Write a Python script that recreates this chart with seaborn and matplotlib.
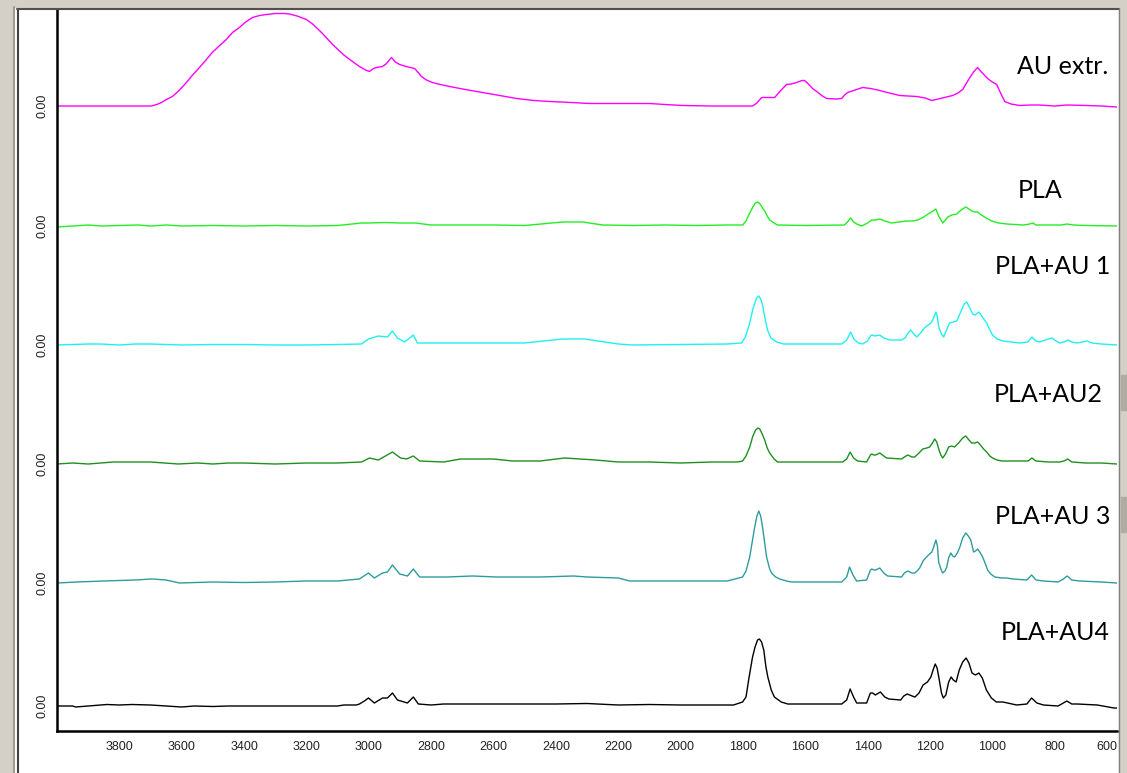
import numpy as np
import pandas as pd
import matplotlib
matplotlib.use("Agg")
import matplotlib.pyplot as plt
import seaborn as sns
from matplotlib.patches import Rectangle
from matplotlib.lines import Line2D

# ---------------- data ----------------
series_names = ["AU extr.", "PLA", "PLA+AU 1", "PLA+AU2", "PLA+AU 3", "PLA+AU4"]
series_colors = ["#ff00ff", "#22ee22", "#1ff0f0", "#1f8f1f", "#2e9c9c", "#000000"]
baseline_offsets = [6.0, 4.80, 3.61, 2.42, 1.23, 0.0]

# AU extr. (wavenumber, absorbance above its own baseline)
au_extr_wn = [4000, 3697, 3680, 3665, 3649, 3630, 3610, 3585, 3565, 3543, 3522, 3502, 3480, 3457,
              3437, 3415, 3395, 3373, 3350, 3328, 3300, 3270, 3254, 3230, 3200, 3180, 3150, 3116,
              3080, 3050, 3030, 3010, 2998, 2985, 2975, 2956, 2945, 2934, 2927, 2915, 2901, 2880,
              2853, 2840, 2831, 2815, 2796, 2770, 2741, 2690, 2635, 2580, 2526, 2470, 2420, 2350,
              2292, 2200, 2099, 2050, 1993, 1900, 1769, 1755, 1740, 1720, 1698, 1680, 1660, 1645,
              1628, 1610, 1602, 1590, 1575, 1563, 1545, 1531, 1500, 1483, 1474, 1464, 1440, 1416,
              1390, 1361, 1330, 1297, 1270, 1242, 1215, 1194, 1160, 1127, 1110, 1095, 1075, 1060,
              1047, 1035, 1015, 1000, 986, 972, 960, 940, 912, 880, 850, 800, 760, 700, 650, 600]
au_extr_abs = [0, 0, 0.015, 0.035, 0.065, 0.095, 0.15, 0.235, 0.31, 0.385, 0.46, 0.535, 0.60, 0.665,
               0.735, 0.785, 0.84, 0.885, 0.905, 0.915, 0.925, 0.925, 0.92, 0.90, 0.865, 0.82, 0.73, 0.615,
               0.51, 0.44, 0.395, 0.36, 0.345, 0.375, 0.385, 0.395, 0.42, 0.46, 0.485, 0.44, 0.415, 0.395,
               0.375, 0.33, 0.295, 0.26, 0.235, 0.215, 0.195, 0.165, 0.135, 0.105, 0.075, 0.055, 0.045, 0.035,
               0.025, 0.025, 0.025, 0.015, 0.005, 0, 0, 0.03, 0.085, 0.085, 0.085, 0.15, 0.215, 0.22,
               0.235, 0.255, 0.255, 0.22, 0.17, 0.145, 0.10, 0.075, 0.07, 0.075, 0.11, 0.135, 0.16, 0.185,
               0.175, 0.155, 0.13, 0.105, 0.10, 0.095, 0.08, 0.055, 0.08, 0.105, 0.13, 0.165, 0.27, 0.34,
               0.385, 0.34, 0.275, 0.24, 0.215, 0.12, 0.045, 0.02, 0.005, 0.01, 0.01, 0, 0.01, 0.005, 0, -0.01]

pla_wn = [4000, 3950, 3900, 3860, 3800, 3740, 3700, 3650, 3600, 3500, 3400, 3300, 3200, 3100, 3023,
          3000, 2950, 2900, 2850, 2800, 2700, 2600, 2500, 2378, 2350, 2314, 2250, 2150, 2050, 1950,
          1850, 1801, 1790, 1778, 1768, 1760, 1752, 1745, 1737, 1730, 1722, 1714, 1700, 1689, 1600,
          1474, 1462, 1454, 1445, 1435, 1419, 1400, 1387, 1375, 1361, 1345, 1323, 1300, 1275, 1255,
          1239, 1220, 1201, 1190, 1181, 1172, 1159, 1150, 1143, 1130, 1114, 1100, 1085, 1075, 1066,
          1056, 1047, 1035, 1020, 1002, 980, 954, 900, 880, 870, 860, 848, 780, 760, 740, 700, 600]
pla_abs = [-0.01, 0, 0.01, 0, 0.005, 0.01, 0, 0.01, 0, 0.005, 0, 0.005, 0, 0.005, 0.03,
           0.03, 0.035, 0.03, 0.03, 0.01, 0.01, 0.01, 0.005, 0.04, 0.04, 0.04, 0.01, 0.005, 0.01, 0.005,
           0.01, 0.01, 0.05, 0.13, 0.19, 0.23, 0.24, 0.22, 0.18, 0.15, 0.10, 0.06, 0.03, 0.01, 0.005,
           0.01, 0.05, 0.08, 0.04, 0.02, 0, 0.03, 0.06, 0.06, 0.07, 0.05, 0.03, 0.04, 0.05, 0.05,
           0.06, 0.09, 0.13, 0.15, 0.17, 0.10, 0.03, 0.06, 0.09, 0.11, 0.12, 0.16, 0.19, 0.17, 0.15,
           0.14, 0.14, 0.11, 0.08, 0.05, 0.03, 0.02, 0.01, 0.02, 0.03, 0.01, 0.01, 0.01, 0.02, 0.01, 0.005, 0]

au1_wn = [4000, 3900, 3860, 3800, 3750, 3700, 3600, 3500, 3400, 3300, 3200, 3100, 3023, 3001, 2969,
          2940, 2924, 2908, 2885, 2857, 2844, 2700, 2500, 2378, 2340, 2308, 2200, 2154, 2000, 1850,
          1804, 1792, 1778, 1768, 1756, 1749, 1743, 1737, 1728, 1721, 1710, 1692, 1670, 1483, 1467,
          1454, 1444, 1430, 1416, 1400, 1391, 1387, 1375, 1361, 1348, 1329, 1291, 1280, 1270, 1262,
          1252, 1242, 1230, 1218, 1210, 1197, 1188, 1181, 1176, 1172, 1163, 1156, 1147, 1137, 1125,
          1114, 1100, 1090, 1082, 1072, 1063, 1056, 1043, 1034, 1018, 1008, 999, 985, 966, 940,
          912, 886, 873, 860, 848, 830, 809, 795, 784, 770, 758, 745, 729, 710, 697, 680, 650, 600]
au1_abs = [0, 0.01, 0.01, 0, 0.01, 0.01, 0, 0.005, 0.005, 0, 0, 0.005, 0.01, 0.06, 0.09,
           0.08, 0.14, 0.07, 0.03, 0.10, 0.02, 0.02, 0.02, 0.06, 0.06, 0.06, 0.01, 0, 0.005, 0.01,
           0.02, 0.08, 0.22, 0.36, 0.47, 0.49, 0.46, 0.40, 0.25, 0.15, 0.07, 0.03, 0.01, 0.01, 0.05,
           0.13, 0.06, 0.02, 0.01, 0.04, 0.09, 0.10, 0.09, 0.10, 0.07, 0.05, 0.05, 0.07, 0.12, 0.15,
           0.11, 0.08, 0.12, 0.17, 0.19, 0.22, 0.27, 0.33, 0.28, 0.18, 0.11, 0.08, 0.15, 0.22, 0.23,
           0.24, 0.34, 0.41, 0.43, 0.37, 0.31, 0.30, 0.33, 0.29, 0.22, 0.15, 0.10, 0.06, 0.04, 0.03,
           0.02, 0.03, 0.08, 0.04, 0.03, 0.05, 0.07, 0.04, 0.02, 0.03, 0.05, 0.03, 0.02, 0.03, 0.04, 0.02, 0.01, 0]

au2_wn = [4000, 3950, 3900, 3819, 3750, 3700, 3611, 3550, 3500, 3450, 3400, 3300, 3200, 3100, 3023,
          2998, 2969, 2924, 2898, 2879, 2857, 2837, 2760, 2706, 2600, 2539, 2450, 2372, 2273, 2200,
          2100, 2000, 1900, 1817, 1801, 1790, 1778, 1768, 1759, 1752, 1746, 1738, 1730, 1722, 1714,
          1700, 1689, 1600, 1480, 1467, 1456, 1445, 1432, 1403, 1391, 1387, 1380, 1374, 1361, 1348,
          1339, 1291, 1282, 1271, 1258, 1249, 1235, 1223, 1210, 1201, 1192, 1185, 1178, 1172, 1165,
          1159, 1150, 1140, 1130, 1121, 1108, 1095, 1085, 1075, 1066, 1056, 1047, 1038, 1028, 1018,
          1008, 999, 985, 970, 912, 885, 873, 860, 820, 784, 770, 758, 745, 700, 650, 600]
au2_abs = [0, 0.01, 0, 0.02, 0.02, 0.02, 0, 0.01, 0, 0.01, 0.01, 0, 0.01, 0.01, 0.02,
           0.06, 0.04, 0.12, 0.06, 0.05, 0.08, 0.03, 0.02, 0.05, 0.05, 0.03, 0.03, 0.06, 0.04, 0.02,
           0.02, 0.01, 0.02, 0.02, 0.03, 0.08, 0.17, 0.28, 0.34, 0.36, 0.35, 0.30, 0.24, 0.16, 0.11,
           0.05, 0.02, 0.02, 0.02, 0.05, 0.12, 0.06, 0.03, 0.02, 0.09, 0.10, 0.09, 0.09, 0.11, 0.08,
           0.06, 0.05, 0.07, 0.09, 0.07, 0.07, 0.11, 0.15, 0.16, 0.17, 0.21, 0.25, 0.22, 0.15, 0.09,
           0.06, 0.10, 0.17, 0.18, 0.17, 0.21, 0.26, 0.28, 0.24, 0.21, 0.21, 0.22, 0.19, 0.15, 0.12,
           0.08, 0.06, 0.04, 0.03, 0.03, 0.03, 0.06, 0.03, 0.02, 0.02, 0.03, 0.05, 0.02, 0.01, 0.01, 0]

au3_wn = [4000, 3936, 3850, 3750, 3694, 3650, 3607, 3500, 3400, 3300, 3203, 3100, 3030, 3001, 2982,
          2956, 2940, 2924, 2901, 2876, 2857, 2837, 2750, 2667, 2590, 2450, 2343, 2300, 2200, 2163,
          2000, 1850, 1801, 1790, 1778, 1768, 1762, 1755, 1749, 1743, 1737, 1730, 1724, 1714, 1708,
          1695, 1682, 1660, 1644, 1483, 1467, 1458, 1447, 1435, 1403, 1391, 1387, 1380, 1374, 1361,
          1348, 1336, 1291, 1282, 1271, 1258, 1249, 1241, 1233, 1222, 1217, 1208, 1194, 1188, 1181,
          1176, 1172, 1165, 1159, 1152, 1146, 1140, 1133, 1127, 1121, 1112, 1104, 1095, 1085, 1077,
          1069, 1060, 1054, 1047, 1040, 1031, 1022, 1015, 1005, 992, 970, 954, 934, 889, 874, 860,
          836, 789, 772, 760, 745, 720, 650, 600]
au3_abs = [0, 0.01, 0.02, 0.03, 0.04, 0.03, 0, 0.01, 0.005, 0.01, 0.02, 0.02, 0.04, 0.10, 0.05,
           0.10, 0.11, 0.18, 0.09, 0.07, 0.14, 0.06, 0.06, 0.07, 0.06, 0.06, 0.07, 0.06, 0.05, 0.02,
           0.02, 0.02, 0.06, 0.12, 0.26, 0.45, 0.56, 0.67, 0.72, 0.67, 0.56, 0.40, 0.26, 0.14, 0.10,
           0.06, 0.04, 0.02, 0.01, 0.01, 0.06, 0.16, 0.08, 0.02, 0.03, 0.13, 0.14, 0.13, 0.13, 0.15,
           0.10, 0.07, 0.06, 0.10, 0.12, 0.10, 0.10, 0.12, 0.15, 0.22, 0.24, 0.27, 0.31, 0.36, 0.43,
           0.37, 0.21, 0.14, 0.10, 0.12, 0.16, 0.25, 0.30, 0.27, 0.26, 0.30, 0.36, 0.45, 0.50, 0.47,
           0.43, 0.31, 0.32, 0.34, 0.31, 0.26, 0.19, 0.13, 0.09, 0.06, 0.05, 0.05, 0.04, 0.03, 0.08, 0.03,
           0.02, 0.01, 0.04, 0.07, 0.03, 0.02, 0.01, 0]

au4_wn = [4000, 3950, 3940, 3900, 3860, 3840, 3800, 3760, 3700, 3650, 3600, 3560, 3500, 3450, 3300,
          3100, 3080, 3040, 3030, 3014, 3001, 2982, 2956, 2940, 2924, 2908, 2876, 2857, 2841, 2800,
          2760, 2740, 2600, 2400, 2300, 2200, 2100, 2000, 1900, 1830, 1801, 1790, 1780, 1769, 1761,
          1753, 1747, 1740, 1733, 1726, 1720, 1709, 1699, 1677, 1656, 1483, 1467, 1456, 1445, 1435,
          1403, 1391, 1384, 1375, 1359, 1345, 1332, 1294, 1284, 1273, 1257, 1248, 1235, 1222, 1208,
          1197, 1190, 1183, 1177, 1170, 1163, 1157, 1149, 1140, 1132, 1125, 1116, 1106, 1095, 1084,
          1075, 1065, 1054, 1043, 1032, 1019, 1003, 987, 966, 922, 889, 874, 857, 836, 789, 772,
          761, 745, 728, 663, 610, 600]
au4_abs = [0, 0, -0.01, 0, 0.01, 0.015, 0.01, 0.015, 0.01, 0, -0.01, 0, -0.005, 0, 0,
           0, 0.01, 0.01, 0.02, 0.05, 0.08, 0.03, 0.08, 0.08, 0.13, 0.06, 0.03, 0.09, 0.02, 0.01,
           0.02, 0.02, 0.02, 0.02, 0.025, 0.01, 0.015, 0.01, 0.01, 0.01, 0.04, 0.09, 0.29, 0.49, 0.59,
           0.66, 0.67, 0.64, 0.56, 0.39, 0.29, 0.16, 0.09, 0.04, 0.02, 0.02, 0.06, 0.17, 0.09, 0.03,
           0.03, 0.13, 0.13, 0.11, 0.14, 0.09, 0.07, 0.06, 0.10, 0.12, 0.10, 0.09, 0.13, 0.21, 0.24,
           0.29, 0.36, 0.42, 0.38, 0.26, 0.13, 0.08, 0.11, 0.24, 0.29, 0.26, 0.24, 0.36, 0.44, 0.48,
           0.43, 0.33, 0.31, 0.33, 0.28, 0.16, 0.08, 0.04, 0.04, 0.01, 0.02, 0.08, 0.03, 0.01, 0, 0.03,
           0.05, 0.02, 0.02, 0.01, -0.02, -0.02]

x_ticks = list(range(3800, 599, -200))
y_tick_label = "0.00"

# ---------------- build long table ----------------
all_wn = [au_extr_wn, pla_wn, au1_wn, au2_wn, au3_wn, au4_wn]
all_abs = [au_extr_abs, pla_abs, au1_abs, au2_abs, au3_abs, au4_abs]
frames = []
for name, off, wn, ab in zip(series_names, baseline_offsets, all_wn, all_abs):
    frames.append(pd.DataFrame({"series": name, "wavenumber": wn,
                                "signal": np.asarray(ab) + off}))
df = pd.concat(frames, ignore_index=True)

# ---------------- figure ----------------
sns.set_style("white")
plt.rcParams["font.family"] = ["Liberation Sans", "DejaVu Sans"]

W, H = 1127, 773
fig = plt.figure(figsize=(W / 100, H / 100), dpi=100)
fig.patch.set_facecolor("white")

ax_left, ax_right, ax_bottom, ax_top = 57, 1117, 731, 10
ax = fig.add_axes([ax_left / W, (H - ax_bottom) / H,
                   (ax_right - ax_left) / W, (ax_bottom - ax_top) / H])

sns.lineplot(data=df, x="wavenumber", y="signal", hue="series",
             hue_order=series_names, palette=series_colors,
             sort=False, estimator=None, legend=False, linewidth=1.0, ax=ax)

ax.set_xlim(4000, 600)
ax.set_ylim(-0.25, 6.96)
ax.set_xlabel("")
ax.set_ylabel("")

ax.set_xticks(x_ticks)
ax.set_xticklabels([str(t) for t in x_ticks], fontsize=9, color="#222222")
ax.get_xticklabels()[-1].set_horizontalalignment("right")
ax.set_yticks(baseline_offsets)
ax.set_yticklabels([y_tick_label] * len(baseline_offsets), rotation=90,
                   va="center", fontsize=9, color="#222222")
ax.tick_params(axis="x", direction="out", length=4, width=1, pad=3, color="black")
ax.tick_params(axis="y", direction="out", length=4, width=1, pad=2, color="black")

for s in ["top", "right"]:
    ax.spines[s].set_visible(False)
for s in ["left", "bottom"]:
    ax.spines[s].set_color("black")
    ax.spines[s].set_linewidth(1.8)

# series labels on the right
label_pos = [(1108, 67), (1062, 191), (1110, 267), (1103, 395), (1110, 516), (1110, 633)]
for name, (px, py) in zip(series_names, label_pos):
    fig.text(px / W, 1 - py / H, name, ha="right", va="center",
             fontsize=18, family=["Lato", "DejaVu Sans"], color="black")

# window frame decoration
gray = "#d4d0c8"
fig.patches.append(Rectangle((0, 0), 12 / W, 1, transform=fig.transFigure, color=gray, zorder=-1))
fig.patches.append(Rectangle((0, 1 - 7 / H), 1, 7 / H, transform=fig.transFigure, color=gray, zorder=-1))
fig.patches.append(Rectangle((1119 / W, 0), 8 / W, 1, transform=fig.transFigure, color=gray, zorder=-1))
fig.patches.append(Rectangle((1121 / W, 1 - 410 / H), 6 / W, 35 / H, transform=fig.transFigure,
                             color="#b0aca4", zorder=0))
fig.patches.append(Rectangle((1121 / W, 1 - 532 / H), 6 / W, 35 / H, transform=fig.transFigure,
                             color="#b0aca4", zorder=0))
fig.lines.append(Line2D([14 / W, 14 / W], [0, 1 - 7 / H], transform=fig.transFigure,
                        color="#a09c94", linewidth=1.5))
fig.lines.append(Line2D([17.5 / W, 17.5 / W], [0, 1 - 9 / H], transform=fig.transFigure,
                        color="#404040", linewidth=1.5))
fig.lines.append(Line2D([17 / W, 1119 / W], [1 - 8.5 / H, 1 - 8.5 / H], transform=fig.transFigure,
                        color="#505050", linewidth=1.5))
fig.lines.append(Line2D([1119 / W, 1119 / W], [0, 1 - 8 / H], transform=fig.transFigure,
                        color="#808080", linewidth=1.0))

fig.savefig("out.png", dpi=100, facecolor="white")
